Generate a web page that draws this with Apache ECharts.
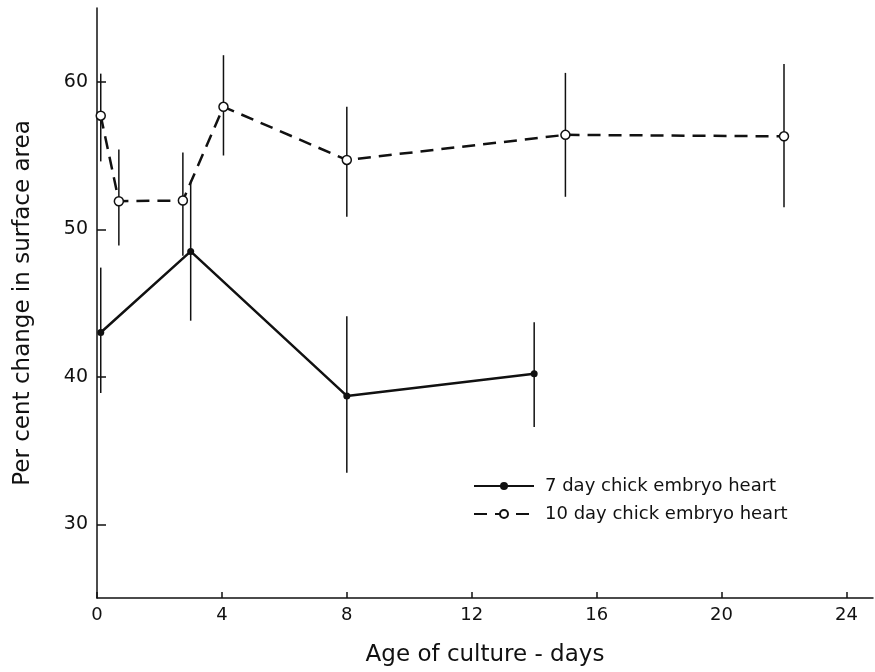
<!DOCTYPE html>
<html>
<head>
<meta charset="utf-8">
<script src="https://cdn.jsdelivr.net/npm/echarts@6/dist/echarts.min.js"></script>
<style>
  html, body { margin: 0; padding: 0; background: #fff; }
  #chart { width: 875px; height: 672px; }
</style>
</head>
<body>
<div id="chart"></div>
<script>
// 7 day chick embryo heart
const days7 = [0.12, 3.0, 8.0, 14.0];
const mean7 = [43.0, 48.5, 38.7, 40.2];
const low7 = [38.9, 43.8, 33.5, 36.6];
const high7 = [47.4, 53.3, 44.1, 43.7];

// 10 day chick embryo heart
const days10 = [0.12, 0.7, 2.75, 4.05, 8.0, 15.0, 22.0];
const mean10 = [57.7, 51.9, 51.95, 58.3, 54.7, 56.4, 56.3];
const low10 = [54.6, 48.9, 48.2, 55.0, 50.85, 52.2, 51.5];
const high10 = [60.55, 55.4, 55.2, 61.8, 58.3, 60.6, 61.2];

const xTicks = [0, 4, 8, 12, 16, 20, 24];
const yTicks = [30, 40, 50, 60];

const font = 'DejaVu Sans';

const chart = echarts.init(document.getElementById('chart'));

function errorBars(days, low, high) {
  return {
    type: 'custom',
    silent: true,
    clip: false,
    data: days.map((d, i) => [d, low[i], high[i]]),
    encode: { x: 0, y: [1, 2] },
    renderItem(params, api) {
      const a = api.coord([api.value(0), api.value(1)]);
      const b = api.coord([api.value(0), api.value(2)]);
      return {
        type: 'line',
        shape: { x1: a[0], y1: a[1], x2: b[0], y2: b[1] },
        style: { stroke: '#111', lineWidth: 1.5 },
      };
    },
    z: 1,
  };
}

const options = {
  animation: false,
  backgroundColor: '#fff',
  grid: { left: 97, right: 2, top: 8, bottom: 72, containLabel: false },
  legend: {
    orient: 'vertical',
    left: 468,
    top: 472,
    itemWidth: 60,
    itemHeight: 10,
    itemGap: 10,
    textStyle: { fontFamily: font, fontSize: 18, color: '#111', padding: [0, 0, 0, 6] },
    data: ['7 day chick embryo heart', '10 day chick embryo heart'],
  },
  xAxis: {
    type: 'value',
    min: 0,
    max: 24.85,
    name: 'Age of culture - days',
    nameLocation: 'middle',
    nameGap: 46,
    nameTextStyle: { fontFamily: font, fontSize: 23, color: '#111' },
    axisLine: { lineStyle: { color: '#111', width: 1.5 } },
    axisTick: { inside: true, length: 6, customValues: xTicks, lineStyle: { color: '#111', width: 1.5 } },
    axisLabel: { customValues: xTicks, fontFamily: font, fontSize: 18, color: '#111', margin: 8 },
    splitLine: { show: false },
  },
  yAxis: {
    type: 'value',
    min: 25,
    max: 65,
    name: 'Per cent change in surface area',
    nameLocation: 'middle',
    nameGap: 62,
    nameRotate: 90,
    nameTextStyle: { fontFamily: font, fontSize: 23, color: '#111' },
    axisLine: { lineStyle: { color: '#111', width: 1.5 } },
    axisTick: { inside: true, length: 9, customValues: yTicks, lineStyle: { color: '#111', width: 1.5 } },
    axisLabel: { customValues: yTicks, fontFamily: font, fontSize: 19, color: '#111', margin: 9 },
    splitLine: { show: false },
  },
  series: [
    errorBars(days7, low7, high7),
    errorBars(days10, low10, high10),
    {
      name: '7 day chick embryo heart',
      type: 'line',
      data: days7.map((d, i) => [d, mean7[i]]),
      symbol: 'circle',
      symbolSize: 7,
      itemStyle: { color: '#111' },
      lineStyle: { color: '#111', width: 2.5 },
      z: 3,
    },
    {
      name: '10 day chick embryo heart',
      type: 'line',
      data: days10.map((d, i) => [d, mean10[i]]),
      symbol: 'circle',
      symbolSize: 9,
      itemStyle: { color: '#fff', borderColor: '#111', borderWidth: 1.5 },
      lineStyle: { color: '#111', width: 2.5, type: [13, 8] },
      z: 3,
    },
  ],
};

chart.setOption(options);
</script>
</body>
</html>
